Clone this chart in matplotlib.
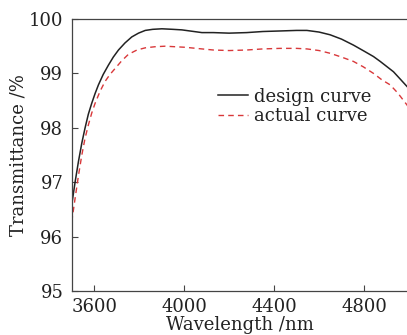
import matplotlib
matplotlib.use("Agg")
import matplotlib.pyplot as plt

wl_design = [3500, 3515, 3530, 3545, 3559, 3574, 3589, 3604, 3619, 3640, 3663, 3685, 3708, 3737, 3767,
             3797, 3827, 3860, 3901, 3950, 3990, 4079, 4130, 4200, 4278, 4350, 4427, 4500, 4546,
             4600, 4649, 4700, 4753, 4800, 4842, 4872, 4900, 4931, 4960, 4991, 5000]
design = [96.58, 97.00, 97.38, 97.72, 97.99, 98.25, 98.45, 98.63, 98.79, 98.98, 99.15, 99.30, 99.43, 99.56, 99.67,
          99.74, 99.79, 99.81, 99.82, 99.81, 99.80, 99.75, 99.75, 99.74, 99.75, 99.77, 99.78, 99.79, 99.79,
          99.76, 99.71, 99.63, 99.52, 99.41, 99.31, 99.22, 99.13, 99.03, 98.90, 98.76, 98.72]

wl_actual = [3500, 3515, 3530, 3545, 3559, 3574, 3589, 3604, 3626, 3648, 3670, 3693, 3722, 3752, 3790,
             3827, 3870, 3916, 3960, 4005, 4079, 4130, 4200, 4278, 4350, 4427, 4500, 4546, 4600,
             4649, 4700, 4753, 4797, 4842, 4880, 4916, 4950, 4991, 5000]
actual = [96.27, 96.70, 97.12, 97.50, 97.80, 98.05, 98.27, 98.45, 98.67, 98.85, 98.98, 99.09, 99.23, 99.35, 99.43,
          99.47, 99.49, 99.50, 99.49, 99.48, 99.45, 99.43, 99.42, 99.43, 99.45, 99.46, 99.46, 99.45, 99.42,
          99.37, 99.30, 99.22, 99.12, 99.00, 98.88, 98.79, 98.64, 98.42, 98.36]

xticks = [3600, 4000, 4400, 4800]
yticks = [95, 96, 97, 98, 99, 100]

plt.rcParams['font.family'] = ['DejaVu Serif']
plt.rcParams['font.size'] = 13

fig = plt.figure(figsize=(4.07, 3.35), dpi=100)
W, H = 407, 335
left, right, top, bottom = 71.7, 409, 19, 291
ax = fig.add_axes([left / W, 1 - bottom / H, (right - left) / W, (bottom - top) / H])

ax.plot(wl_design, design, color='#222222', lw=1.1, label='design curve')
ax.plot(wl_actual, actual, color='#d9383a', lw=1.0, ls=(0, (4, 3)), label='actual curve')

ax.set_xlim(3500, 5000)
ax.set_ylim(95, 100)
ax.set_xticks(xticks)
ax.set_yticks(yticks)
ax.tick_params(direction='in', length=4, width=0.8, color='#444444', labelcolor='#222222')
ax.tick_params(axis='y', pad=6)
ax.tick_params(axis='x', pad=5)
for s in ['left', 'bottom', 'top']:
    ax.spines[s].set_color('#444444')
    ax.spines[s].set_linewidth(0.9)
ax.spines['right'].set_visible(False)

ax.set_xlabel('Wavelength /nm', labelpad=0, color='#222222')
ax.set_ylabel('Transmittance /%', labelpad=1, color='#222222')

leg = ax.legend(loc='upper left', bbox_to_anchor=(0.434, 0.748), frameon=False,
                handlelength=1.65, handletextpad=0.35, labelspacing=0.1,
                borderaxespad=0, borderpad=0)
for t in leg.get_texts():
    t.set_color('#222222')

fig.savefig('out.png', dpi=100)
